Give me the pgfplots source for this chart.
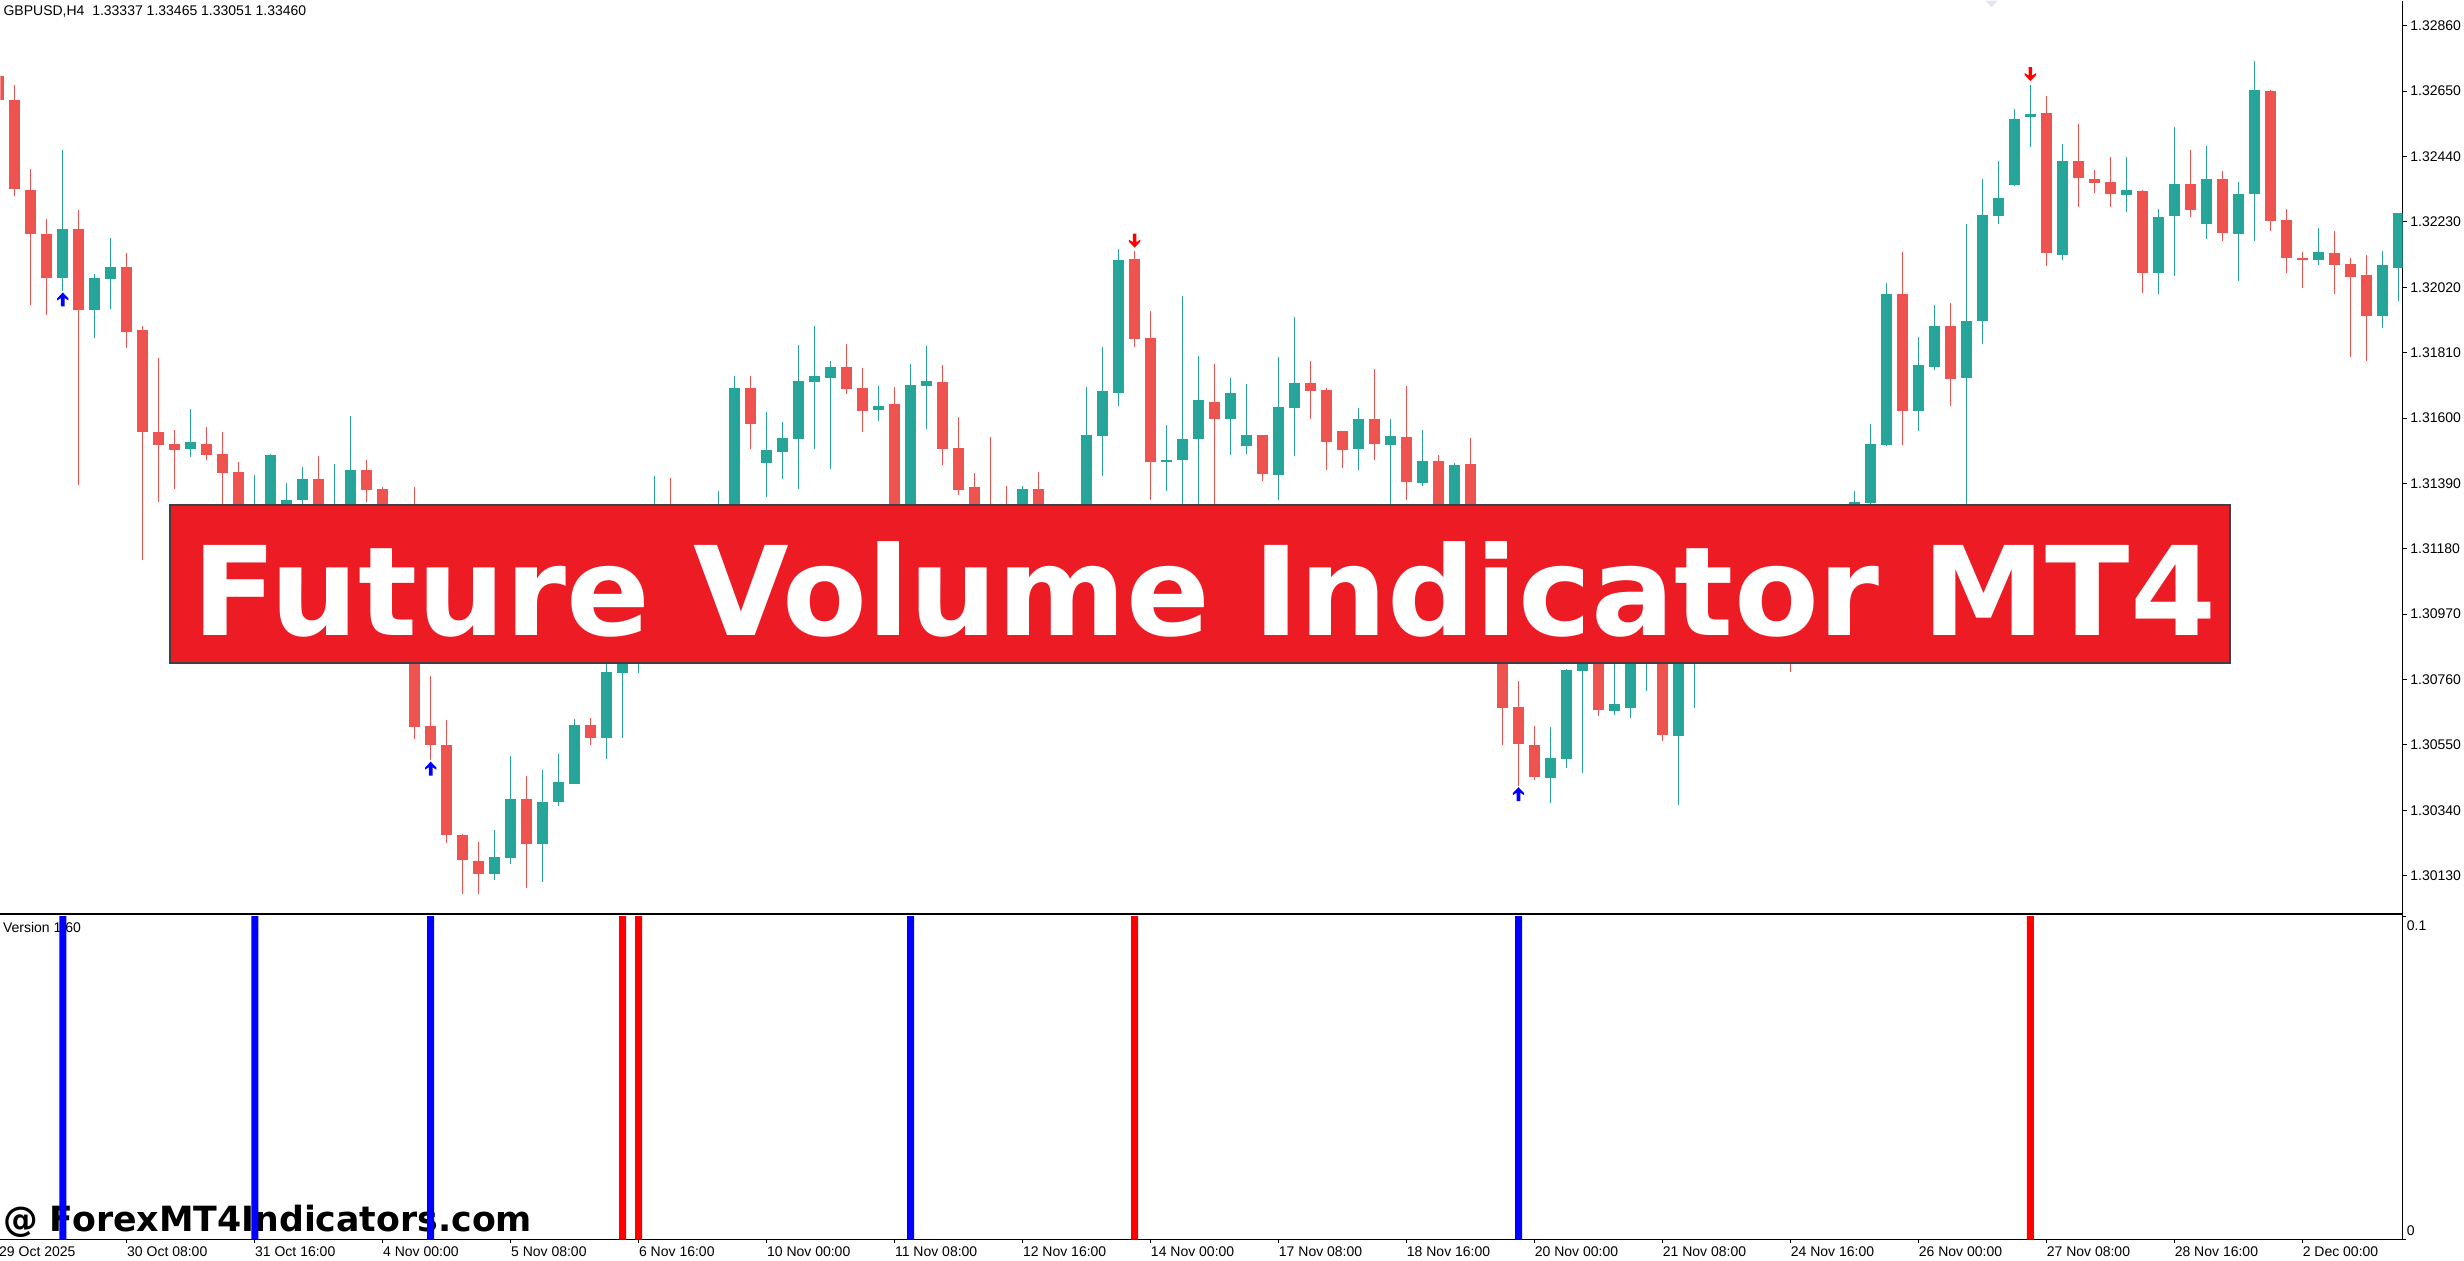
\documentclass[border=0pt]{standalone}
\usepackage{fontspec}
\setmainfont{Liberation Sans}
\newfontfamily\dejavu{DejaVu Sans}
\usepackage{pgfplots}
\usepackage{pgfplotstable}
\pgfplotsset{compat=1.18}
\definecolor{upc}{HTML}{26A69A}
\definecolor{dnc}{HTML}{EF5350}
\definecolor{bannerred}{HTML}{ED1C24}
\definecolor{markgray}{HTML}{E8E4EE}
\newcommand{\sm}{\fontsize{7pt}{8pt}\selectfont}
\pgfdeclareplotmark{uparr}{%
  \pgfpathmoveto{\pgfqpoint{0pt}{-0.6pt}}%
  \pgfpathlineto{\pgfqpoint{2.85pt}{-3.6pt}}%
  \pgfpathlineto{\pgfqpoint{2.85pt}{-4.6pt}}%
  \pgfpathlineto{\pgfqpoint{0.9pt}{-3.35pt}}%
  \pgfpathlineto{\pgfqpoint{0.9pt}{-7.6pt}}%
  \pgfpathlineto{\pgfqpoint{-0.9pt}{-7.6pt}}%
  \pgfpathlineto{\pgfqpoint{-0.9pt}{-3.35pt}}%
  \pgfpathlineto{\pgfqpoint{-2.85pt}{-4.6pt}}%
  \pgfpathlineto{\pgfqpoint{-2.85pt}{-3.6pt}}%
  \pgfpathclose
  \pgfusepathqfill}
\pgfdeclareplotmark{dnarr}{%
  \pgfpathmoveto{\pgfqpoint{0pt}{1.75pt}}%
  \pgfpathlineto{\pgfqpoint{2.85pt}{4.75pt}}%
  \pgfpathlineto{\pgfqpoint{2.85pt}{5.75pt}}%
  \pgfpathlineto{\pgfqpoint{0.9pt}{4.5pt}}%
  \pgfpathlineto{\pgfqpoint{0.9pt}{8.75pt}}%
  \pgfpathlineto{\pgfqpoint{-0.9pt}{8.75pt}}%
  \pgfpathlineto{\pgfqpoint{-0.9pt}{4.5pt}}%
  \pgfpathlineto{\pgfqpoint{-2.85pt}{5.75pt}}%
  \pgfpathlineto{\pgfqpoint{-2.85pt}{4.75pt}}%
  \pgfpathclose
  \pgfusepathqfill}
\pgfplotstableread{
i o h l c
4 1.32050 1.32462 1.32007 1.32207
6 1.31948 1.32063 1.31856 1.32050
7 1.32045 1.32179 1.31951 1.32084
12 1.31501 1.31630 1.31475 1.31522
16 1.31143 1.31418 1.31111 1.31303
17 1.31287 1.31486 1.31239 1.31480
18 1.31239 1.31390 1.31207 1.31337
19 1.31337 1.31444 1.31287 1.31403
21 1.31207 1.31451 1.31175 1.31303
22 1.31239 1.31608 1.31207 1.31434
25 1.31111 1.31303 1.31079 1.31207
31 1.30136 1.30277 1.30115 1.30189
32 1.30188 1.30514 1.30169 1.30375
34 1.30233 1.30471 1.30110 1.30367
35 1.30367 1.30520 1.30353 1.30430
36 1.30426 1.30633 1.30424 1.30614
38 1.30573 1.30886 1.30504 1.30785
39 1.30782 1.31014 1.30573 1.30950
40 1.30886 1.31046 1.30782 1.31014
41 1.30982 1.31413 1.30950 1.31143
43 1.31014 1.31207 1.30950 1.31111
44 1.31111 1.31271 1.31046 1.31207
45 1.31191 1.31365 1.31143 1.31271
46 1.31255 1.31736 1.31207 1.31698
48 1.31456 1.31620 1.31347 1.31497
49 1.31491 1.31588 1.31404 1.31536
50 1.31532 1.31833 1.31372 1.31720
51 1.31716 1.31897 1.31500 1.31734
52 1.31728 1.31782 1.31436 1.31763
55 1.31626 1.31702 1.31590 1.31640
57 1.31143 1.31773 1.31095 1.31705
58 1.31702 1.31831 1.31566 1.31718
64 1.31143 1.31382 1.31111 1.31372
67 1.31143 1.31271 1.31079 1.31239
68 1.31239 1.31699 1.31191 1.31544
69 1.31542 1.31828 1.31413 1.31686
70 1.31680 1.32144 1.31638 1.32109
73 1.31460 1.31579 1.31364 1.31466
74 1.31464 1.31992 1.31271 1.31534
75 1.31532 1.31798 1.31287 1.31657
77 1.31597 1.31730 1.31481 1.31679
78 1.31510 1.31708 1.31484 1.31544
80 1.31417 1.31795 1.31336 1.31634
81 1.31632 1.31923 1.31478 1.31711
85 1.31500 1.31631 1.31433 1.31596
87 1.31513 1.31596 1.31324 1.31541
89 1.31391 1.31560 1.31381 1.31461
91 1.31207 1.31454 1.31159 1.31448
97 1.30444 1.30607 1.30362 1.30507
98 1.30505 1.30793 1.30476 1.30790
99 1.30787 1.30950 1.30460 1.30886
101 1.30659 1.30854 1.30647 1.30681
102 1.30668 1.30886 1.30637 1.30854
103 1.30822 1.31014 1.30723 1.30950
105 1.30578 1.31014 1.30358 1.30950
106 1.30886 1.31079 1.30667 1.31014
107 1.31014 1.31143 1.30950 1.31079
109 1.31014 1.31159 1.30982 1.31111
111 1.31046 1.31207 1.31014 1.31143
113 1.31079 1.31207 1.31014 1.31175
114 1.31175 1.31271 1.31143 1.31239
115 1.31239 1.31303 1.31207 1.31287
116 1.31271 1.31365 1.31239 1.31329
117 1.31328 1.31581 1.31287 1.31516
118 1.31512 1.32033 1.31509 1.31998
120 1.31621 1.31861 1.31559 1.31771
121 1.31763 1.31962 1.31753 1.31897
123 1.31728 1.32223 1.31271 1.31913
124 1.31913 1.32369 1.31839 1.32251
125 1.32248 1.32427 1.32222 1.32308
126 1.32347 1.32594 1.32344 1.32562
127 1.32566 1.32671 1.32470 1.32578
129 1.32125 1.32481 1.32109 1.32424
133 1.32316 1.32437 1.32261 1.32331
135 1.32065 1.32270 1.31998 1.32247
136 1.32248 1.32536 1.32056 1.32353
138 1.32223 1.32475 1.32175 1.32369
140 1.32191 1.32357 1.32040 1.32318
141 1.32319 1.32748 1.32168 1.32652
145 1.32107 1.32209 1.32093 1.32132
149 1.31927 1.32138 1.31889 1.32093
150 1.32081 1.32260 1.31975 1.32257
}\updata
\pgfplotstableread{
i o h l c
0 1.32697 1.32716 1.32617 1.32623
1 1.32623 1.32671 1.32312 1.32334
2 1.32333 1.32400 1.31962 1.32190
3 1.32191 1.32239 1.31930 1.32050
5 1.32207 1.32269 1.31385 1.31948
8 1.32084 1.32131 1.31825 1.31877
9 1.31882 1.31894 1.31144 1.31555
10 1.31556 1.31792 1.31330 1.31513
11 1.31515 1.31560 1.31371 1.31498
13 1.31518 1.31570 1.31465 1.31482
14 1.31485 1.31556 1.31271 1.31423
15 1.31425 1.31459 1.31191 1.31239
20 1.31403 1.31477 1.31239 1.31271
23 1.31434 1.31466 1.31330 1.31368
24 1.31373 1.31380 1.31207 1.31239
26 1.31207 1.31378 1.30570 1.30609
27 1.30610 1.30770 1.30500 1.30549
28 1.30549 1.30629 1.30234 1.30260
29 1.30262 1.30265 1.30072 1.30180
30 1.30177 1.30238 1.30072 1.30136
33 1.30375 1.30450 1.30089 1.30233
37 1.30614 1.30638 1.30549 1.30573
42 1.31143 1.31407 1.30950 1.31014
47 1.31695 1.31736 1.31501 1.31582
53 1.31763 1.31838 1.31677 1.31694
54 1.31696 1.31760 1.31554 1.31621
56 1.31644 1.31699 1.31079 1.31143
59 1.31715 1.31770 1.31450 1.31499
60 1.31505 1.31602 1.31354 1.31370
61 1.31378 1.31424 1.31143 1.31207
62 1.31239 1.31538 1.31079 1.31143
63 1.31207 1.31382 1.31079 1.31143
65 1.31372 1.31428 1.31175 1.31239
66 1.31239 1.31271 1.31095 1.31143
71 1.32112 1.32136 1.31829 1.31855
72 1.31857 1.31944 1.31338 1.31458
76 1.31652 1.31772 1.31207 1.31596
79 1.31544 1.31547 1.31397 1.31420
82 1.31714 1.31782 1.31597 1.31686
83 1.31689 1.31698 1.31433 1.31523
84 1.31557 1.31557 1.31439 1.31497
86 1.31596 1.31756 1.31465 1.31516
88 1.31538 1.31702 1.31336 1.31394
90 1.31461 1.31480 1.31143 1.31207
92 1.31451 1.31535 1.31079 1.31143
93 1.31143 1.31175 1.30950 1.31014
94 1.31014 1.31046 1.30550 1.30670
95 1.30671 1.30754 1.30418 1.30553
96 1.30549 1.30610 1.30436 1.30447
100 1.30870 1.30918 1.30643 1.30661
104 1.30950 1.30982 1.30563 1.30582
108 1.31079 1.31111 1.30966 1.31014
110 1.31111 1.31143 1.30998 1.31046
112 1.31143 1.31175 1.30783 1.31079
119 1.31998 1.32134 1.31514 1.31624
122 1.31894 1.31969 1.31637 1.31725
128 1.32581 1.32633 1.32088 1.32130
130 1.32424 1.32543 1.32277 1.32370
131 1.32369 1.32395 1.32322 1.32354
132 1.32357 1.32437 1.32277 1.32319
134 1.32328 1.32331 1.32001 1.32065
137 1.32353 1.32460 1.32245 1.32267
139 1.32369 1.32392 1.32170 1.32194
142 1.32649 1.32655 1.32200 1.32232
143 1.32235 1.32270 1.32065 1.32113
144 1.32113 1.32133 1.32017 1.32109
146 1.32129 1.32200 1.31998 1.32093
147 1.32096 1.32113 1.31796 1.32052
148 1.32058 1.32122 1.31783 1.31927
}\dndata
\begin{document}
\begin{tikzpicture}
\begin{scope}[x=0.5pt,y=-0.5pt]
\path[use as bounding box] (0,0) rectangle (2464,1260);
\fill[markgray] (1985,0) -- (1998,0) -- (1991.5,6.5) -- cycle;
\node[anchor=base west, inner sep=0pt] at (2.7,15) {\sm GBPUSD,H4\ \ 1.33337 1.33465 1.33051 1.33460};
\node[anchor=base west, inner sep=0pt] at (2.2,932.5) {\sm Version 1.60};
\node[anchor=base west, inner sep=0pt] at (2.2,1231.7) {\resizebox{264.5pt}{!}{\dejavu\bfseries @ ForexMT4Indicators.com}};
\node[anchor=north west, inner sep=0pt] at (-1.7,1246.5) {\sm 29 Oct 2025};
\node[anchor=north west, inner sep=0pt] at (2406.5,920) {\sm 0.1};
\node[anchor=north west, inner sep=0pt] at (2406.5,1225) {\sm 0};
\draw[line width=0.5pt] (0,914.4) -- (2402.5,914.4);
\end{scope}
\begin{axis}[
  at={(0pt,0pt)}, anchor=north west,
  width=1201.25pt, height=456.35pt, scale only axis,
  xmin=0.106, xmax=150.26, ymin=1.30010, ymax=1.32941,
  axis x line*=bottom, axis y line*=right,
  axis line style={line width=0.5pt, black},
  xtick=\empty,
  ytick={1.30130,1.30340,1.30550,1.30760,1.30970,1.31180,1.31390,1.31600,1.31810,1.32020,1.32230,1.32440,1.32650,1.32860},
  scaled y ticks=false,
  tick align=outside, major tick length=2.15pt,
  tick style={line width=0.5pt, black},
  yticklabel style={font=\sm, inner sep=0pt, anchor=west, xshift=1.6pt, /pgf/number format/.cd, fixed, fixed zerofill, precision=5, assume math mode=true},
]
\addplot[draw=none, forget plot, error bars/.cd, y dir=plus, y explicit, error mark=none,
  error bar style={draw=upc, line width=0.6pt, line cap=butt}]
  table[x=i, y=l, y error plus expr={\thisrow{h}-\thisrow{l}}] {\updata};
\addplot[draw=none, forget plot, error bars/.cd, y dir=plus, y explicit, error mark=none,
  error bar style={draw=upc, line width=5.5pt, line cap=butt}]
  table[x=i, y=o, y error plus expr={\thisrow{c}-\thisrow{o}}] {\updata};
\addplot[draw=none, forget plot, error bars/.cd, y dir=plus, y explicit, error mark=none,
  error bar style={draw=dnc, line width=0.6pt, line cap=butt}]
  table[x=i, y=l, y error plus expr={\thisrow{h}-\thisrow{l}}] {\dndata};
\addplot[draw=none, forget plot, error bars/.cd, y dir=plus, y explicit, error mark=none,
  error bar style={draw=dnc, line width=5.5pt, line cap=butt}]
  table[x=i, y=c, y error plus expr={\thisrow{o}-\thisrow{c}}] {\dndata};
\addplot[only marks, mark=uparr, blue, mark options={fill=blue, draw=none}]
  coordinates {(4,1.32007) (16,1.31111) (27,1.30500) (57,1.31095) (95,1.30418)};
\addplot[only marks, mark=dnarr, red, mark options={fill=red, draw=none}]
  coordinates {(39,1.31014) (40,1.31046) (71,1.32136) (127,1.32671)};
\end{axis}
\begin{axis}[
  at={(0pt,-457.2pt)}, anchor=north west,
  width=1201.25pt, height=162.45pt, scale only axis,
  xmin=0.106, xmax=150.26, ymin=0, ymax=0.1004,
  axis x line*=bottom, axis y line*=right,
  axis line style={line width=0.5pt, black},
  xtick={8,16,...,144},
  xticklabels={30 Oct 08:00,31 Oct 16:00,4 Nov 00:00,5 Nov 08:00,6 Nov 16:00,10 Nov 00:00,11 Nov 08:00,12 Nov 16:00,14 Nov 00:00,17 Nov 08:00,18 Nov 16:00,20 Nov 00:00,21 Nov 08:00,24 Nov 16:00,26 Nov 00:00,27 Nov 08:00,28 Nov 16:00,2 Dec 00:00},
  ytick={0,0.1}, yticklabels={},
  tick align=outside, major tick length=1.65pt,
  tick style={line width=0.5pt, black},
  xticklabel style={font=\sm, anchor=north west, inner sep=0pt, yshift=-1.95pt},
]
\addplot[ybar, bar width=3.5pt, bar shift=0pt, fill=blue, draw=none]
  coordinates {(4,0.1) (16,0.1) (27,0.1) (57,0.1) (95,0.1)};
\addplot[ybar, bar width=3.5pt, bar shift=0pt, fill=red, draw=none]
  coordinates {(39,0.1) (40,0.1) (71,0.1) (127,0.1)};
\end{axis}
\begin{scope}[x=0.5pt,y=-0.5pt]
\fill[bannerred] (169.7,505) rectangle (2230,662.7);
\draw[line width=1pt, black!75] (169.7,505) rectangle (2230,662.7);
\node[anchor=base, inner sep=0pt, text=white] at (1204,635) {\resizebox{1012pt}{!}{\dejavu\bfseries Future Volume Indicator MT4}};
\end{scope}
\end{tikzpicture}
\end{document}
